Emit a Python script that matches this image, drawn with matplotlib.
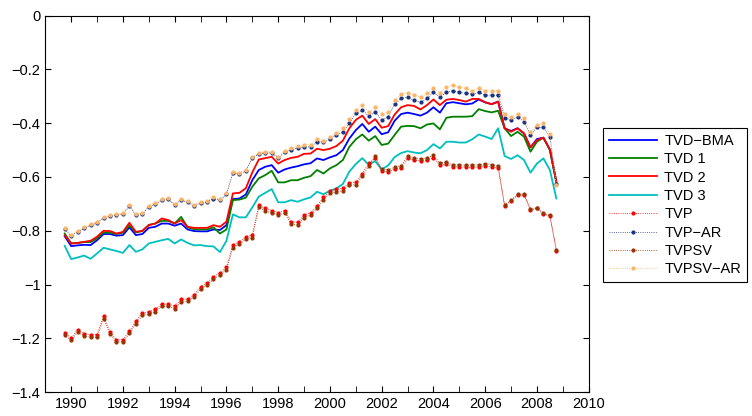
import numpy as np
import matplotlib
matplotlib.use("Agg")
import matplotlib.pyplot as plt
from matplotlib.ticker import MultipleLocator, FuncFormatter

# quarterly dates, 1989Q4 .. 2008Q4
fechas = 1989.75 + 0.25 * np.arange(77)

tvd_bma = [-0.820, -0.857, -0.854, -0.852, -0.853, -0.835, -0.812, -0.812, -0.818, -0.816,
           -0.787, -0.816, -0.812, -0.789, -0.785, -0.773, -0.773, -0.781, -0.773, -0.795,
           -0.801, -0.802, -0.802, -0.795, -0.797, -0.779, -0.682, -0.680, -0.665, -0.612,
           -0.574, -0.562, -0.556, -0.584, -0.572, -0.565, -0.560, -0.553, -0.549, -0.531,
           -0.537, -0.527, -0.519, -0.500, -0.457, -0.426, -0.403, -0.432, -0.413, -0.441,
           -0.434, -0.391, -0.366, -0.361, -0.366, -0.372, -0.361, -0.341, -0.361, -0.326,
           -0.322, -0.326, -0.330, -0.327, -0.312, -0.323, -0.329, -0.320, -0.419, -0.429,
           -0.419, -0.438, -0.490, -0.459, -0.454, -0.498, -0.618]

tvd_1 = [-0.810, -0.847, -0.845, -0.842, -0.842, -0.828, -0.806, -0.807, -0.812, -0.807,
         -0.780, -0.806, -0.801, -0.778, -0.773, -0.763, -0.763, -0.773, -0.748, -0.787,
         -0.794, -0.795, -0.795, -0.787, -0.810, -0.795, -0.686, -0.684, -0.677, -0.636,
         -0.605, -0.593, -0.577, -0.620, -0.620, -0.612, -0.612, -0.603, -0.597, -0.574,
         -0.587, -0.568, -0.556, -0.537, -0.488, -0.460, -0.442, -0.465, -0.448, -0.481,
         -0.476, -0.444, -0.413, -0.410, -0.411, -0.419, -0.405, -0.401, -0.423, -0.380,
         -0.376, -0.376, -0.376, -0.374, -0.348, -0.355, -0.360, -0.354, -0.419, -0.448,
         -0.432, -0.450, -0.506, -0.469, -0.454, -0.500, -0.620]

tvd_2 = [-0.817, -0.847, -0.845, -0.841, -0.837, -0.822, -0.800, -0.801, -0.810, -0.804,
         -0.770, -0.804, -0.800, -0.779, -0.773, -0.754, -0.760, -0.773, -0.760, -0.785,
         -0.789, -0.789, -0.789, -0.779, -0.785, -0.766, -0.661, -0.659, -0.642, -0.583,
         -0.535, -0.530, -0.525, -0.550, -0.537, -0.529, -0.525, -0.514, -0.513, -0.495,
         -0.500, -0.495, -0.485, -0.465, -0.419, -0.388, -0.372, -0.403, -0.385, -0.417,
         -0.411, -0.368, -0.341, -0.333, -0.336, -0.349, -0.333, -0.312, -0.333, -0.313,
         -0.310, -0.314, -0.320, -0.310, -0.310, -0.322, -0.330, -0.320, -0.419, -0.432,
         -0.419, -0.438, -0.490, -0.463, -0.454, -0.498, -0.618]

tvd_3 = [-0.856, -0.905, -0.899, -0.892, -0.904, -0.884, -0.863, -0.869, -0.875, -0.882,
         -0.853, -0.878, -0.869, -0.847, -0.841, -0.835, -0.830, -0.847, -0.832, -0.845,
         -0.854, -0.853, -0.857, -0.858, -0.879, -0.837, -0.739, -0.750, -0.750, -0.713,
         -0.673, -0.659, -0.645, -0.694, -0.694, -0.686, -0.692, -0.683, -0.676, -0.655,
         -0.664, -0.651, -0.643, -0.626, -0.580, -0.552, -0.530, -0.555, -0.541, -0.572,
         -0.557, -0.526, -0.511, -0.504, -0.509, -0.512, -0.500, -0.478, -0.494, -0.469,
         -0.469, -0.472, -0.472, -0.460, -0.442, -0.450, -0.459, -0.419, -0.522, -0.533,
         -0.519, -0.537, -0.584, -0.550, -0.531, -0.574, -0.680]

tvp = [-1.179, -1.198, -1.167, -1.182, -1.186, -1.186, -1.117, -1.175, -1.204, -1.204,
       -1.172, -1.136, -1.105, -1.101, -1.091, -1.072, -1.072, -1.080, -1.055, -1.053,
       -1.037, -1.008, -0.993, -0.971, -0.956, -0.936, -0.853, -0.841, -0.822, -0.816,
       -0.704, -0.717, -0.725, -0.732, -0.725, -0.766, -0.769, -0.742, -0.733, -0.708,
       -0.676, -0.651, -0.646, -0.642, -0.621, -0.620, -0.588, -0.549, -0.531, -0.578,
       -0.581, -0.571, -0.566, -0.531, -0.537, -0.540, -0.537, -0.528, -0.556, -0.553,
       -0.562, -0.562, -0.564, -0.564, -0.562, -0.559, -0.562, -0.566, -0.708, -0.690,
       -0.667, -0.667, -0.723, -0.717, -0.738, -0.745, -0.874]

tvp_ar = [-0.794, -0.820, -0.804, -0.791, -0.780, -0.770, -0.754, -0.746, -0.742, -0.739,
          -0.708, -0.742, -0.739, -0.710, -0.700, -0.687, -0.683, -0.704, -0.687, -0.694,
          -0.707, -0.698, -0.692, -0.680, -0.687, -0.665, -0.586, -0.588, -0.578, -0.531,
          -0.514, -0.510, -0.511, -0.530, -0.508, -0.499, -0.492, -0.488, -0.488, -0.469,
          -0.470, -0.460, -0.444, -0.432, -0.401, -0.364, -0.351, -0.374, -0.358, -0.388,
          -0.376, -0.330, -0.308, -0.304, -0.314, -0.323, -0.308, -0.286, -0.302, -0.286,
          -0.279, -0.286, -0.289, -0.292, -0.286, -0.296, -0.296, -0.296, -0.380, -0.388,
          -0.376, -0.395, -0.444, -0.416, -0.416, -0.450, -0.626]

tvpsv = [-1.188, -1.207, -1.176, -1.191, -1.195, -1.195, -1.126, -1.184, -1.213, -1.213,
         -1.181, -1.145, -1.114, -1.110, -1.100, -1.081, -1.081, -1.089, -1.064, -1.062,
         -1.046, -1.017, -1.002, -0.980, -0.965, -0.945, -0.862, -0.850, -0.831, -0.825,
         -0.713, -0.726, -0.734, -0.741, -0.734, -0.775, -0.778, -0.751, -0.742, -0.717,
         -0.685, -0.660, -0.655, -0.651, -0.630, -0.629, -0.597, -0.558, -0.523, -0.570,
         -0.573, -0.563, -0.558, -0.523, -0.529, -0.532, -0.529, -0.520, -0.548, -0.545,
         -0.554, -0.554, -0.556, -0.556, -0.554, -0.551, -0.554, -0.558, -0.705, -0.687,
         -0.664, -0.664, -0.720, -0.714, -0.735, -0.742, -0.871]

tvpsv_ar = [-0.790, -0.816, -0.800, -0.787, -0.776, -0.766, -0.750, -0.742, -0.738, -0.735,
            -0.704, -0.738, -0.735, -0.706, -0.696, -0.683, -0.679, -0.700, -0.683, -0.690,
            -0.703, -0.694, -0.688, -0.676, -0.683, -0.661, -0.582, -0.584, -0.574, -0.527,
            -0.510, -0.506, -0.506, -0.525, -0.503, -0.493, -0.485, -0.480, -0.480, -0.458,
            -0.465, -0.453, -0.436, -0.419, -0.386, -0.351, -0.333, -0.358, -0.341, -0.366,
            -0.360, -0.314, -0.290, -0.287, -0.296, -0.304, -0.289, -0.271, -0.287, -0.265,
            -0.260, -0.267, -0.271, -0.279, -0.271, -0.279, -0.281, -0.279, -0.366, -0.376,
            -0.366, -0.382, -0.432, -0.407, -0.401, -0.441, -0.630]

plt.rcParams['font.family'] = ['Liberation Sans', 'DejaVu Sans']

fig = plt.figure(figsize=(7.52, 4.16), dpi=100)
ax = fig.add_axes([45.3 / 752, 1 - 392.3 / 416, (588.7 - 45.3) / 752, (392.3 - 15.5) / 416])

# lineas continuas (TVD)
ax.plot(fechas, tvd_bma, color=(0, 0, 1), lw=1.3, label="TVD\u2212BMA")
ax.plot(fechas, tvd_1, color=(0, 0.5, 0), lw=1.3, label="TVD 1")
ax.plot(fechas, tvd_2, color=(1, 0, 0), lw=1.3, label="TVD 2")
ax.plot(fechas, tvd_3, color=(0, 0.75, 0.75), lw=1.3, label="TVD 3")

# lineas punteadas con marcadores
estilo = dict(ls=':', lw=0.6, marker='.', ms=4)
ax.plot(fechas, tvp, color=(1, 0, 0), label="TVP", **estilo)
ax.plot(fechas, tvp_ar, color=(0.1, 0.2, 0.5), label="TVP\u2212AR", **estilo)
ax.plot(fechas, tvpsv, color=(0.6, 0.2, 0.0), label="TVPSV", **estilo)
ax.plot(fechas, tvpsv_ar, color=(1, 0.7, 0.4), label="TVPSV\u2212AR", **estilo)

ax.set_xlim(1989, 2010)
ax.set_ylim(-1.4, 0)
ax.xaxis.set_major_locator(MultipleLocator(2))
ax.xaxis.set_minor_locator(MultipleLocator(1))
ax.yaxis.set_major_locator(MultipleLocator(0.2))
ax.yaxis.set_major_formatter(FuncFormatter(lambda v, p: ('%g' % round(v, 1)).replace('-', '\u2212')))
ax.tick_params(which='both', direction='in', top=True, right=True, labelsize=10.5, length=4)
for s in ax.spines.values():
    s.set_linewidth(0.8)

leg = ax.legend(loc='upper left', bbox_to_anchor=(603 / 752, 1 - 128 / 416),
                bbox_transform=fig.transFigure, borderaxespad=0, fontsize=10.5,
                fancybox=False, edgecolor='black', framealpha=1, numpoints=1,
                handlelength=3.3, labelspacing=0.3, borderpad=0.4, handletextpad=0.5)
leg.get_frame().set_linewidth(0.8)

fig.savefig("out.png", dpi=100)
